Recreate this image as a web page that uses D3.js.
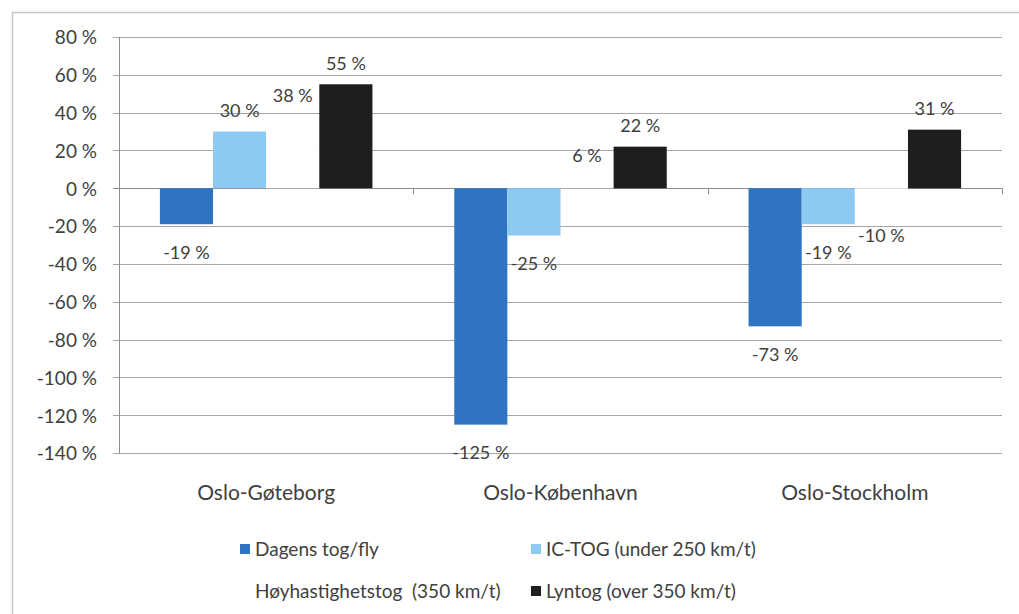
<!DOCTYPE html>
<html>
<head>
<meta charset="utf-8">
<script src="https://cdn.jsdelivr.net/npm/d3@7"></script>
<style>
  html, body { margin: 0; padding: 0; background: #fff; }
  svg text { font-family: Lato, "Open Sans", sans-serif; fill: #404040; }
</style>
</head>
<body>
<svg id="chart" width="1019" height="614"></svg>
<script>
// Routes on the category axis
const routes = ["Oslo-Gøteborg", "Oslo-København", "Oslo-Stockholm"];

// Series names, in bar order within each route
const seriesNames = [
  "Dagens tog/fly",
  "IC-TOG (under 250 km/t)",
  "Høyhastighetstog  (350 km/t)",
  "Lyntog (over 350 km/t)"
];

// Change in percent, one array per series (same order as routes)
const dagens   = [-19, -125, -73];
const icTog    = [30, -25, -19];
const hoyhast  = [38, 6, -10];
const lyntog   = [55, 22, 31];

// Y-axis tick values
const yTicks = [80, 60, 40, 20, 0, -20, -40, -60, -80, -100, -120, -140];

const seriesValues = [dagens, icTog, hoyhast, lyntog];
const seriesColors = ["#2f74c0", "#8ec9f2", "#ffffff", "#1e1e1e"];

const svg = d3.select("#chart");

// Outer chart frame (left and top edges visible)
svg.append("path")
  .attr("d", "M12.5,614 L12.5,12.5 L1019,12.5")
  .attr("fill", "none")
  .attr("stroke", "#c8c8c8")
  .attr("stroke-width", 1.5);

const plot = { left: 119, right: 1002, top: 37, bottom: 453 };

const y = d3.scaleLinear().domain([-140, 80]).range([plot.bottom, plot.top]);
const x0 = d3.scaleBand().domain(routes).range([plot.left, plot.right]).paddingInner(0).paddingOuter(0);
const x1 = d3.scaleBand().domain(d3.range(seriesNames.length))
  .range([0, x0.bandwidth()]).paddingInner(0).paddingOuter(0.77);

const fmt = v => `${v} %`;

// Gridlines
const grid = svg.append("g");
grid.selectAll("line").data(yTicks).join("line")
  .attr("x1", plot.left - 6).attr("x2", plot.right)
  .attr("y1", d => Math.round(y(d)) + 0.5).attr("y2", d => Math.round(y(d)) + 0.5)
  .attr("stroke", d => d === 0 ? "#8c8c8c" : "#a6a6a6")
  .attr("stroke-width", 1);

// Y axis tick labels
const yAxis = d3.axisLeft(y).tickValues(yTicks).tickFormat(fmt).tickSize(0).tickPadding(0);
const yg = svg.append("g").attr("transform", `translate(${plot.left - 22},0)`).call(yAxis);
yg.select(".domain").remove();
yg.selectAll("text").attr("font-size", 19).attr("dy", "0.36em");

// Y axis line
svg.append("line")
  .attr("x1", plot.left + 0.5).attr("x2", plot.left + 0.5)
  .attr("y1", plot.top).attr("y2", plot.bottom + 0.5)
  .attr("stroke", "#8c8c8c");

// Category tick marks on the zero line
const catEdges = routes.map(r => x0(r)).concat([plot.right]);
svg.append("g").selectAll("line").data(catEdges).join("line")
  .attr("x1", d => Math.round(d) + 0.5).attr("x2", d => Math.round(d) + 0.5)
  .attr("y1", y(0)).attr("y2", y(0) + 6)
  .attr("stroke", "#8c8c8c");

// Bars
const groups = svg.append("g").selectAll("g").data(routes).join("g")
  .attr("transform", r => `translate(${x0(r)},0)`);

const cells = groups.selectAll("g.cell")
  .data((r, ri) => seriesValues.map((vals, si) => ({ si, v: vals[ri] })))
  .join("g").attr("class", "cell");

cells.append("rect")
  .attr("x", d => x1(d.si))
  .attr("width", x1.bandwidth())
  .attr("y", d => y(Math.max(0, d.v)))
  .attr("height", d => Math.abs(y(d.v) - y(0)))
  .attr("fill", d => seriesColors[d.si]);

// Data labels (outside end)
cells.append("text")
  .attr("x", d => x1(d.si) + x1.bandwidth() / 2)
  .attr("y", d => d.v >= 0 ? y(d.v) - 21 : y(d.v) + 28)
  .attr("dy", "0.36em")
  .attr("text-anchor", "middle")
  .attr("font-size", 18)
  .text(d => fmt(d.v));

// Category labels
svg.append("g").selectAll("text").data(routes).join("text")
  .attr("x", r => x0(r) + x0.bandwidth() / 2)
  .attr("y", 492)
  .attr("dy", "0.36em")
  .attr("text-anchor", "middle")
  .attr("font-size", 21)
  .text(r => r);

// Legend (two rows, two entries each); positions are where each entry's text starts
const legendPos = [
  { x: 255, y: 549 },
  { x: 546, y: 549 },
  { x: 255, y: 591 },
  { x: 546, y: 591 }
];
const legend = svg.append("g").selectAll("g").data(seriesNames).join("g")
  .attr("transform", (d, i) => `translate(${legendPos[i].x},${legendPos[i].y})`);
legend.append("rect")
  .attr("x", -15).attr("y", -5).attr("width", 10).attr("height", 10)
  .attr("fill", (d, i) => seriesColors[i]);
legend.append("text")
  .attr("x", 0).attr("y", 0).attr("dy", "0.36em")
  .attr("font-size", 19)
  .style("white-space", "pre")
  .text(d => d);
</script>
</body>
</html>
